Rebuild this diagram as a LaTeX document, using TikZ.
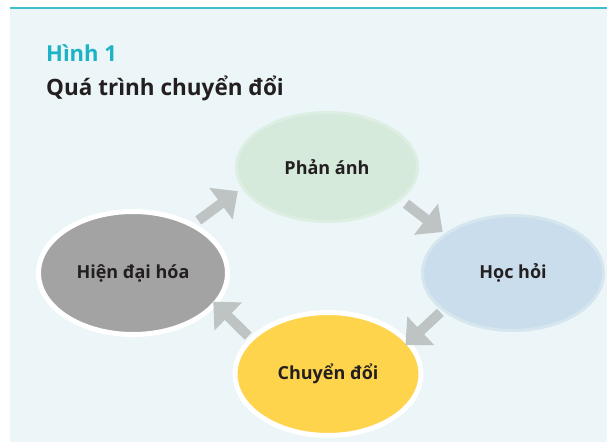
\documentclass[tikz,border=0pt]{standalone}
\usepackage{fontspec}
\setmainfont{Open Sans}
\usetikzlibrary{arrows.meta,shapes.geometric}
\definecolor{panelbg}{HTML}{ECF5F7}
\definecolor{figteal}{HTML}{1DB3C6}
\definecolor{ruleteal}{HTML}{3DC0CB}
\definecolor{inkdark}{HTML}{231F20}
\definecolor{reflectfill}{HTML}{D5EADB}
\definecolor{reflectedge}{HTML}{DDEEE3}
\definecolor{learnfill}{HTML}{C9DDEC}
\definecolor{learnedge}{HTML}{D6E6EF}
\definecolor{modernfill}{HTML}{A3A3A3}
\definecolor{changefill}{HTML}{FFD44D}
\definecolor{arrowgray}{HTML}{BEC3C3}

\begin{document}
\begin{tikzpicture}[x=1pt, y=-1pt,
  stage/.style={ellipse, text=inkdark, inner sep=0pt,
    font=\bfseries\fontsize{18}{21}\selectfont},
  flow/.style={arrowgray, line width=10pt, -{Triangle[width=38pt,length=21pt]}}]
\useasboundingbox (0,0) rectangle (607,442);
% panel
\fill[panelbg] (10,9) rectangle (607,442);
\draw[ruleteal, line width=2pt] (10,8) -- (607,8);
% heading
\node[anchor=base west, inner sep=0pt, text=figteal, font=\bfseries\fontsize{22}{26}\selectfont] (fignum) at (46,61) {Hình 1};
\node[anchor=base west, inner sep=0pt, text=inkdark, font=\bfseries\fontsize{22.5}{27}\selectfont] (figtitle) at (46,95) {Quá trình chuyển đổi};
% stages
\node[stage, fill=reflectfill, draw=reflectedge, line width=3pt, minimum width=181pt, minimum height=109pt] (reflect) at (327,167) {Phản ánh};
\node[stage, fill=learnfill, draw=learnedge, line width=3pt, minimum width=181pt, minimum height=115pt] (learn) at (513,273) {Học hỏi};
\node[stage, fill=changefill, draw=white, line width=5pt, minimum width=186pt, minimum height=123pt] (change) at (328,374) {Chuyển đổi};
\node[stage, fill=modernfill, draw=white, line width=5pt, minimum width=189pt, minimum height=123pt] (modern) at (133,273) {Hiện đại hóa};
% cycle
\draw[flow, shorten <=5pt, shorten >=5pt] (modern.39) -- (reflect.194);
\draw[flow, shorten <=6pt, shorten >=2.5pt] (reflect.-24) -- (learn.150);
\draw[flow, shorten <=2.5pt, shorten >=-6pt] (learn.208) -- (change.22.5);
\draw[flow, shorten <=2pt, shorten >=-5pt] (change.155) -- (modern.-21);
\end{tikzpicture}
\end{document}
